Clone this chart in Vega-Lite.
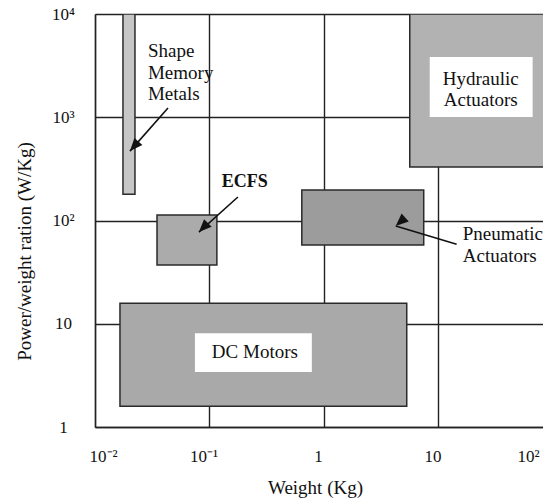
{
  "$schema": "https://vega.github.io/schema/vega-lite/v6.json",
  "autosize": {"type": "none"},
  "padding": {"left": 95, "top": 14, "right": -10, "bottom": 74},
  "width": 458,
  "height": 413,
  "background": "white",
  "datasets": {
    "boxes": [
      {"name": "Shape Memory Metals", "w_lo": 0.01755, "w_hi": 0.02234, "p_lo": 180, "p_hi": 10000},
      {"name": "ECFS", "w_lo": 0.0348, "w_hi": 0.116, "p_lo": 37.0, "p_hi": 112.8},
      {"name": "Hydraulic Actuators", "w_lo": 5.61, "w_hi": 100, "p_lo": 329, "p_hi": 10000},
      {"name": "Pneumatic Actuators", "w_lo": 0.64, "w_hi": 7.43, "p_lo": 57.8, "p_hi": 197},
      {"name": "DC Motors", "w_lo": 0.01652, "w_hi": 5.28, "p_lo": 1.59, "p_hi": 15.8}
    ],
    "labelAreas": [
      {"name": "Hydraulic Actuators", "w_lo": 8.38, "w_hi": 66.4, "p_lo": 1005, "p_hi": 3831},
      {"name": "DC Motors", "w_lo": 0.0746, "w_hi": 0.783, "p_lo": 3.4, "p_hi": 8.11}
    ],
    "labels": [
      {"name": "Shape Memory Metals", "text": "Shape\nMemory\nMetals", "w": 0.029, "p": 3831},
      {"name": "ECFS", "text": "ECFS", "w": 0.128, "p": 211},
      {"name": "Hydraulic Actuators", "text": "Hydraulic\nActuators", "w": 23.4, "p": 2051},
      {"name": "Pneumatic Actuators", "text": "Pneumatic\nActuators", "w": 16.3, "p": 64.6},
      {"name": "DC Motors", "text": "DC Motors", "w": 0.249, "p": 4.64}
    ],
    "arrows": [
      {"name": "Shape Memory Metals", "w_from": 0.0434, "p_from": 1227, "w_to": 0.0202, "p_to": 470},
      {"name": "ECFS", "w_from": 0.177, "p_from": 169, "w_to": 0.0808, "p_to": 77.2},
      {"name": "Pneumatic Actuators", "w_from": 14.4, "p_from": 59.0, "w_to": 4.23, "p_to": 88.3}
    ]
  },
  "layer": [
    {
      "data": {"name": "boxes"},
      "mark": {"type": "rect", "clip": true, "stroke": "#2a2a2a", "strokeWidth": 1.5},
      "encoding": {
        "x": {
          "field": "w_lo", "type": "quantitative",
          "scale": {"type": "log", "domain": [0.01, 100], "nice": false},
          "title": "Weight (Kg)",
          "axis": {
            "values": [0.01, 0.1, 1, 10, 100],
            "labelExpr": "['10⁻²','10⁻¹','1','10','10²'][round(log(datum.value)/LN10)+2]",
            "labelBaseline": "top",
            "labelPadding": 21,
            "labelOffset": {"condition": {"test": "datum.value >= 100", "value": -14}, "value": -6},
            "titleX": 220,
            "titleY": 66,
            "titleBaseline": "alphabetic",
            "titleAnchor": "middle",
            "titleAlign": "center"
          }
        },
        "x2": {"field": "w_hi"},
        "y": {
          "field": "p_lo", "type": "quantitative",
          "scale": {"type": "log", "domain": [1, 10000], "nice": false},
          "title": "Power/weight ration (W/Kg)",
          "axis": {
            "values": [1, 10, 100, 1000, 10000],
            "labelExpr": "['1','10','10²','10³','10⁴'][round(log(datum.value)/LN10)]",
            "labelAlign": "center",
            "labelBaseline": "middle",
            "labelPadding": 32,
            "titleX": -71,
            "titleY": 237,
            "titleAngle": -90,
            "titleBaseline": "middle",
            "titleAlign": "center"
          }
        },
        "y2": {"field": "p_hi"},
        "fill": {
          "field": "name", "type": "nominal", "legend": null,
          "scale": {
            "domain": ["Shape Memory Metals", "ECFS", "Hydraulic Actuators", "Pneumatic Actuators", "DC Motors"],
            "range": ["#c6c6c6", "#ababab", "#b2b2b2", "#9c9c9c", "#a9a9a9"]
          }
        }
      }
    },
    {
      "data": {"name": "labelAreas"},
      "mark": {"type": "rect", "fill": "white", "clip": true},
      "encoding": {
        "x": {"field": "w_lo", "type": "quantitative", "scale": {"type": "log", "nice": false}},
        "x2": {"field": "w_hi"},
        "y": {"field": "p_lo", "type": "quantitative", "scale": {"type": "log", "nice": false}},
        "y2": {"field": "p_hi"}
      }
    },
    {
      "data": {"name": "labels"},
      "transform": [{"filter": {"field": "name", "oneOf": ["Shape Memory Metals", "Pneumatic Actuators"]}}],
      "mark": {"type": "text", "align": "left", "baseline": "alphabetic", "font": "Liberation Serif", "fontSize": 19, "lineBreak": "\n", "lineHeight": 21.5, "color": "#111"},
      "encoding": {
        "x": {"field": "w", "type": "quantitative", "scale": {"type": "log", "nice": false}},
        "y": {"field": "p", "type": "quantitative", "scale": {"type": "log", "nice": false}},
        "text": {"field": "text"}
      }
    },
    {
      "data": {"name": "labels"},
      "transform": [{"filter": {"field": "name", "oneOf": ["ECFS"]}}],
      "mark": {"type": "text", "align": "left", "baseline": "alphabetic", "font": "Liberation Serif", "fontSize": 18, "fontWeight": "bold", "color": "#111"},
      "encoding": {
        "x": {"field": "w", "type": "quantitative", "scale": {"type": "log", "nice": false}},
        "y": {"field": "p", "type": "quantitative", "scale": {"type": "log", "nice": false}},
        "text": {"field": "text"}
      }
    },
    {
      "data": {"name": "labels"},
      "transform": [{"filter": {"field": "name", "oneOf": ["Hydraulic Actuators", "DC Motors"]}}],
      "mark": {"type": "text", "align": "center", "baseline": "alphabetic", "font": "Liberation Serif", "fontSize": 19, "lineBreak": "\n", "lineHeight": 20.5, "color": "#111"},
      "encoding": {
        "x": {"field": "w", "type": "quantitative", "scale": {"type": "log", "nice": false}},
        "y": {"field": "p", "type": "quantitative", "scale": {"type": "log", "nice": false}},
        "text": {"field": "text"}
      }
    },
    {
      "data": {"name": "arrows"},
      "mark": {"type": "rule", "color": "#111", "strokeWidth": 1.6},
      "encoding": {
        "x": {"field": "w_from", "type": "quantitative", "scale": {"type": "log", "nice": false}},
        "y": {"field": "p_from", "type": "quantitative", "scale": {"type": "log", "nice": false}},
        "x2": {"field": "w_to"},
        "y2": {"field": "p_to"}
      }
    },
    {
      "data": {"name": "arrows"},
      "mark": {"type": "point", "shape": "M0,0L-0.42,1L0.42,1Z", "filled": true, "color": "#111", "opacity": 1, "size": 650},
      "encoding": {
        "x": {"field": "w_to", "type": "quantitative", "scale": {"type": "log", "nice": false}},
        "y": {"field": "p_to", "type": "quantitative", "scale": {"type": "log", "nice": false}},
        "angle": {
          "field": "name", "type": "nominal", "legend": null,
          "scale": {"domain": ["Shape Memory Metals", "ECFS", "Pneumatic Actuators"], "range": [221.5, 228, 286.4]}
        }
      }
    }
  ],
  "config": {
    "view": {"stroke": null},
    "axis": {
      "labelFont": "Liberation Serif",
      "titleFont": "Liberation Serif",
      "labelColor": "#111",
      "titleColor": "#111",
      "labelFontSize": 17,
      "titleFontSize": 19,
      "titleFontWeight": "normal",
      "grid": true,
      "gridColor": "#222",
      "gridWidth": 1.4,
      "gridOpacity": 1,
      "ticks": false,
      "tickSize": 0,
      "domain": true,
      "domainColor": "#222",
      "domainWidth": 1.4,
      "labelOverlap": false,
      "labelBound": false
    }
  }
}
